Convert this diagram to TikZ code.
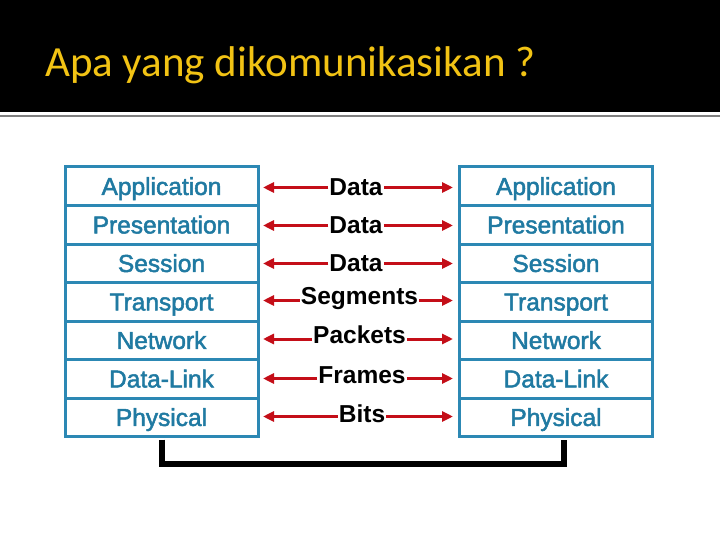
\documentclass[tikz,border=0pt]{standalone}
\usepackage{fontspec}
\setmainfont{Liberation Sans}
\newfontfamily\titlefont{Carlito}
\newfontfamily\layerfont{Liberation Sans}[FakeBold=2]
\usetikzlibrary{arrows.meta,positioning}
\definecolor{titleyellow}{RGB}{242,195,20}
\definecolor{stackblue}{RGB}{44,136,180}
\definecolor{stacktext}{RGB}{32,122,162}
\definecolor{arrred}{RGB}{196,14,24}
\definecolor{rulegray}{RGB}{128,128,128}
\tikzset{
  layerbox/.style={draw=stackblue, line width=3pt, fill=white, minimum width=193pt,
    minimum height=38.5pt, inner sep=0pt, text=stacktext,
    font=\layerfont\fontsize{24.5}{29}\selectfont, text height=17.4pt, text depth=0pt},
  pdu/.style={inner sep=1pt, font=\fontsize{24.5}{29}\selectfont\bfseries,
    text height=17.4pt, text depth=0pt},
  redarr/.style={draw=arrred, line width=3pt, -{Triangle[length=11pt,width=10pt]}},
  conn/.style={line width=6pt, draw=black}
}
\begin{document}
\begin{tikzpicture}[x=1pt,y=-1pt]
\useasboundingbox (0,0) rectangle (720,540);
\fill[white] (0,0) rectangle (720,540);
\fill[black] (0,0) rectangle (720,112);
\draw[rulegray, line width=2pt] (0,116) -- (720,116);
\node[anchor=base west, inner sep=0pt, text=titleyellow, font=\titlefont\fontsize{43}{50}\selectfont] (title) at (45,77) {Apa yang dikomunikasikan ?};

% stacks
\foreach \i/\t in {1/Application,2/Presentation,3/Session,4/Transport,5/Network,6/Data-Link,7/Physical}{
  \node[layerbox] (L\i) at (161.5,{167+38.5*(\i-0.5)}) {\t};
  \node[layerbox] (R\i) at (556,{167+38.5*(\i-0.5)}) {\t};
}

% PDU labels
\node[pdu] (p1) at (356,187) {Data};
\node[pdu] (p2) at (356,225) {Data};
\node[pdu] (p3) at (356,263) {Data};
\node[pdu] (p4) at (359.5,296) {Segments};
\node[pdu] (p5) at (359.5,335) {Packets};
\node[pdu] (p6) at (362,375) {Frames};
\node[pdu] (p7) at (362,414) {Bits};

\foreach \i/\y in {1/187.5,2/225.5,3/263.5,4/300.5,5/339,6/378.5,7/416.5}{
  \coordinate (le\i) at (263,\y);
  \coordinate (re\i) at (453,\y);
  \draw[redarr] (p\i.west |- le\i) -- (le\i);
  \draw[redarr] (p\i.east |- re\i) -- (re\i);
}

% bottom connector
\coordinate (cr) at ([xshift=8pt]R7.south);
\draw[conn] ([yshift=-1.5pt]L7.south) -- ++(0,24.5) -| ([yshift=-1.5pt]cr);
\end{tikzpicture}
\end{document}
